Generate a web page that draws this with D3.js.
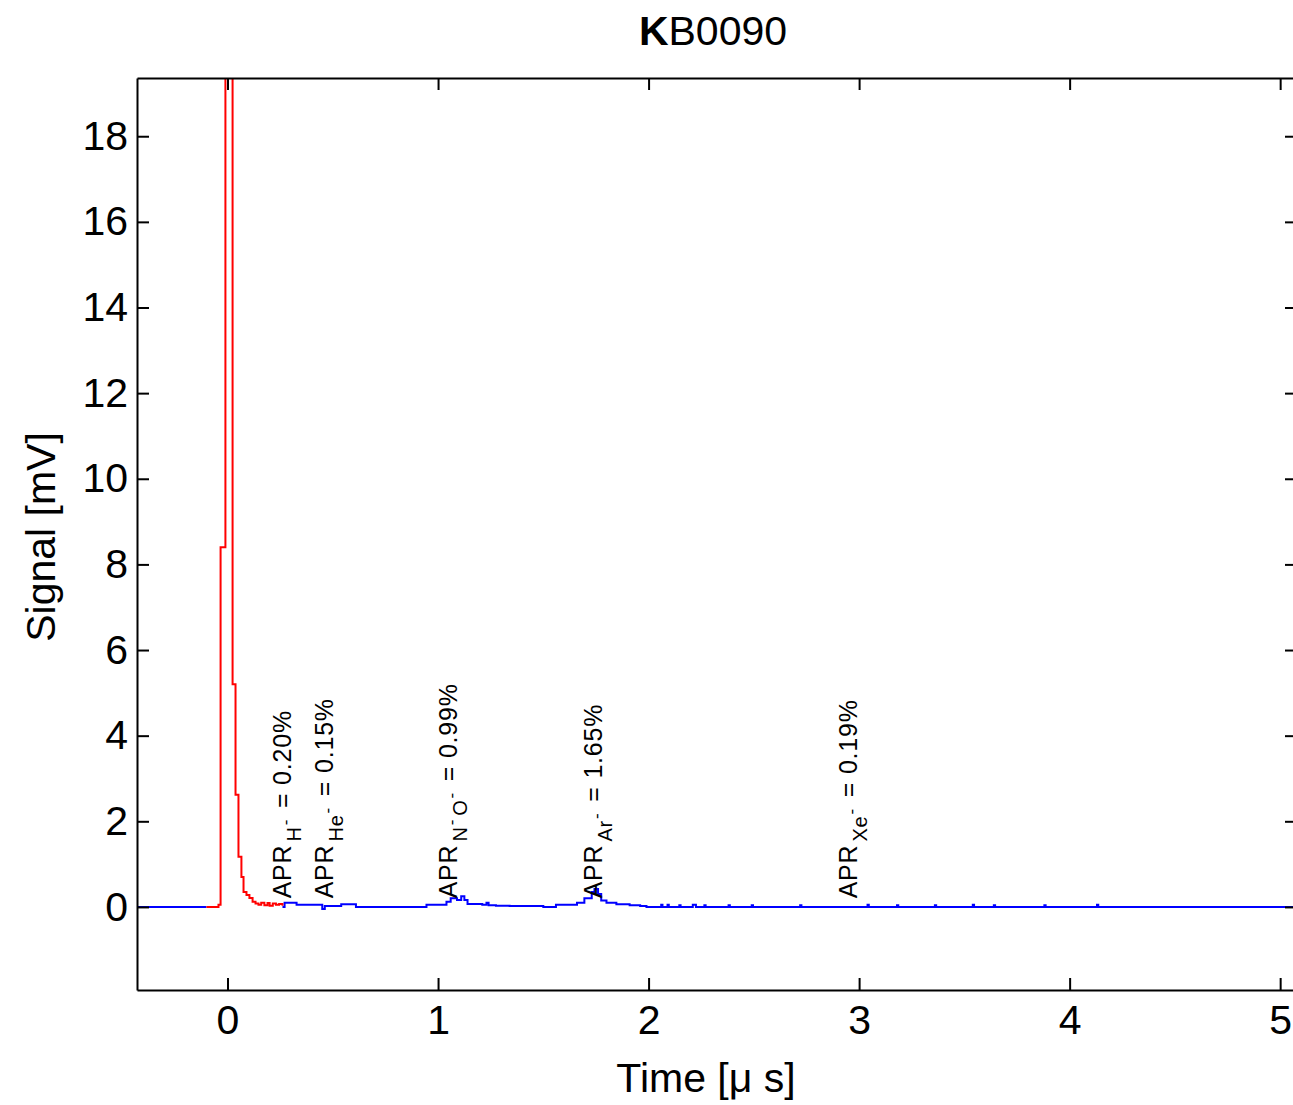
<!DOCTYPE html>
<html>
<head>
<meta charset="utf-8">
<script src="https://cdn.jsdelivr.net/npm/d3@7"></script>
<style>
  body { margin: 0; background: #fff; }
  svg { display: block; font-family: "Liberation Sans", Arial, sans-serif; }
  .axis path, .axis line { stroke: #000; stroke-width: 2; }
  .axis text { font-size: 41px; fill: #000; }
</style>
</head>
<body>
<svg width="1293" height="1105"></svg>
<script>
// axis limits and ticks
var xLimits = [-0.43, 5.08];
var yLimits = [-1.94, 19.36];
var xTicks = [0, 1, 2, 3, 4, 5];
var yTicks = [0, 2, 4, 6, 8, 10, 12, 14, 16, 18];

// red trace (prompt pulse), time in us, signal in mV
var redT = [-0.100, -0.043, -0.033, -0.010, 0.024, 0.038, 0.052, 0.066, 0.076, 0.090, 0.104, 0.119,
            0.133, 0.147, 0.160, 0.175, 0.190, 0.200, 0.215, 0.230, 0.245, 0.261];
var redV = [0.00, 0.05, 8.40, 45.0, 5.20, 2.62, 1.17, 0.70, 0.35, 0.28, 0.21, 0.12,
            0.08, 0.05, 0.10, 0.04, 0.09, 0.03, 0.08, 0.05, 0.07, 0.03];

// blue trace (rest of the signal); NaN = gap under the red pulse
var blueT = [-0.43, -0.100, -0.099,
             0.261, 0.271, 0.328, 0.450, 0.462, 0.540, 0.610,
             0.945, 1.040, 1.060, 1.090, 1.110, 1.125, 1.140, 1.210, 1.230, 1.240, 1.275, 1.340, 1.500,
             1.560, 1.660, 1.695, 1.730, 1.743, 1.760, 1.775, 1.800, 1.847, 1.910, 1.960, 1.990,
             2.060, 2.066, 2.090, 2.096, 2.146, 2.152, 2.210, 2.225, 2.265, 2.271, 2.380, 2.386,
             2.490, 2.496, 2.720, 2.726, 3.040, 3.046, 3.180, 3.186, 3.360, 3.366, 3.540, 3.546,
             3.640, 3.646, 3.880, 3.886, 4.130, 4.136, 5.080];
var blueV = [0.00, 0.00, NaN,
             0.00, 0.10, 0.05, -0.05, 0.02, 0.06, 0.00,
             0.05, 0.12, 0.20, 0.16, 0.25, 0.16, 0.07, 0.05, 0.10, 0.04, 0.03, 0.02, 0.00,
             0.05, 0.10, 0.20, 0.35, 0.42, 0.30, 0.15, 0.10, 0.06, 0.04, 0.02, 0.00,
             0.05, 0.00, 0.05, 0.00, 0.04, 0.00, 0.05, 0.00, 0.04, 0.00, 0.04, 0.00,
             0.04, 0.00, 0.04, 0.00, 0.05, 0.00, 0.04, 0.00, 0.04, 0.00, 0.05, 0.00,
             0.04, 0.00, 0.04, 0.00, 0.05, 0.00, 0.00];

// peak annotations
var labelT = [0.30, 0.50, 1.09, 1.78, 2.99];
var labelV = 0.2;
var labelSubs = [["H"], ["He"], ["N", "O"], ["Ar"], ["Xe"]];
var labelPct = ["0.20%", "0.15%", "0.99%", "1.65%", "0.19%"];

var dom = {};

function zip(t, v) {
    return t.map(function(d, i) { return { t: d, v: v[i] }; });
}

function draw() {
    dom.svg = d3.select('svg');
    var margin = { left: 137, top: 78, right: 1297, bottom: 990 };

    var x = d3.scaleLinear().domain(xLimits).range([margin.left, margin.right]);
    var y = d3.scaleLinear().domain(yLimits).range([margin.bottom, margin.top]);

    dom.svg.append('rect').attr('width', 1293).attr('height', 1105).attr('fill', '#fff');

    dom.svg.append('clipPath').attr('id', 'plotClip')
        .append('rect')
            .attr('x', margin.left).attr('y', margin.top)
            .attr('width', margin.right - margin.left).attr('height', margin.bottom - margin.top);

    var line = d3.line()
        .defined(function(d) { return !isNaN(d.v); })
        .curve(d3.curveStepAfter)
        .x(function(d) { return x(d.t); })
        .y(function(d) { return y(d.v); });

    var plot = dom.svg.append('g').attr('clip-path', 'url(#plotClip)');
    plot.append('path').datum(zip(blueT, blueV))
        .attr('d', line).attr('fill', 'none').attr('stroke', '#0000ff').attr('stroke-width', 2);
    plot.append('path').datum(zip(redT, redV))
        .attr('d', line).attr('fill', 'none').attr('stroke', '#ff0000').attr('stroke-width', 2);

    // axes with inward ticks on all four sides
    dom.svg.append('g').attr('class', 'axis')
        .attr('transform', 'translate(0,' + margin.bottom + ')')
        .call(d3.axisBottom(x).tickValues(xTicks).tickSizeInner(-12).tickSizeOuter(0).tickPadding(15).tickFormat(d3.format('d')))
        .call(function(g) { g.selectAll('text').attr('dy', '0.71em'); });
    dom.svg.append('g').attr('class', 'axis')
        .attr('transform', 'translate(0,' + margin.top + ')')
        .call(d3.axisTop(x).tickValues(xTicks).tickSizeInner(-12).tickSizeOuter(0).tickFormat(''));
    dom.svg.append('g').attr('class', 'axis')
        .attr('transform', 'translate(' + margin.left + ',0)')
        .call(d3.axisLeft(y).tickValues(yTicks).tickSizeInner(-12).tickSizeOuter(0).tickPadding(9).tickFormat(d3.format('d')));
    dom.svg.append('g').attr('class', 'axis')
        .attr('transform', 'translate(' + margin.right + ',0)')
        .call(d3.axisRight(y).tickValues(yTicks).tickSizeInner(-12).tickSizeOuter(0).tickFormat(''));

    // title, K rendered heavier as in the picture
    var title = dom.svg.append('text')
        .attr('x', 713).attr('y', 45)
        .attr('text-anchor', 'middle').attr('font-size', 41);
    title.append('tspan').attr('font-weight', 'bold').text('K');
    title.append('tspan').text('B0090');

    dom.svg.append('text')
        .attr('x', 706).attr('y', 1092)
        .attr('text-anchor', 'middle').attr('font-size', 41)
        .text('Time [\u03bc s]');

    dom.svg.append('text')
        .attr('transform', 'translate(55,537) rotate(-90)')
        .attr('text-anchor', 'middle').attr('font-size', 41)
        .text('Signal [mV]');

    // rotated peak labels
    labelT.forEach(function(t, i) {
        var txt = dom.svg.append('text')
            .attr('transform', 'translate(' + x(t) + ',' + y(labelV) + ') rotate(-90)')
            .attr('font-size', 25).attr('letter-spacing', 0.8).attr('fill', '#000');
        txt.append('tspan').text('APR');
        labelSubs[i].forEach(function(s) {
            txt.append('tspan').attr('font-size', 20).attr('dx', 3).attr('dy', 10).text(s);
            txt.append('tspan').attr('font-size', 17).attr('dx', 1).attr('dy', -10).text('-');
        });
        txt.append('tspan').attr('dx', 3).text(' = ' + labelPct[i]);
    });
}

draw();
</script>
</body>
</html>
